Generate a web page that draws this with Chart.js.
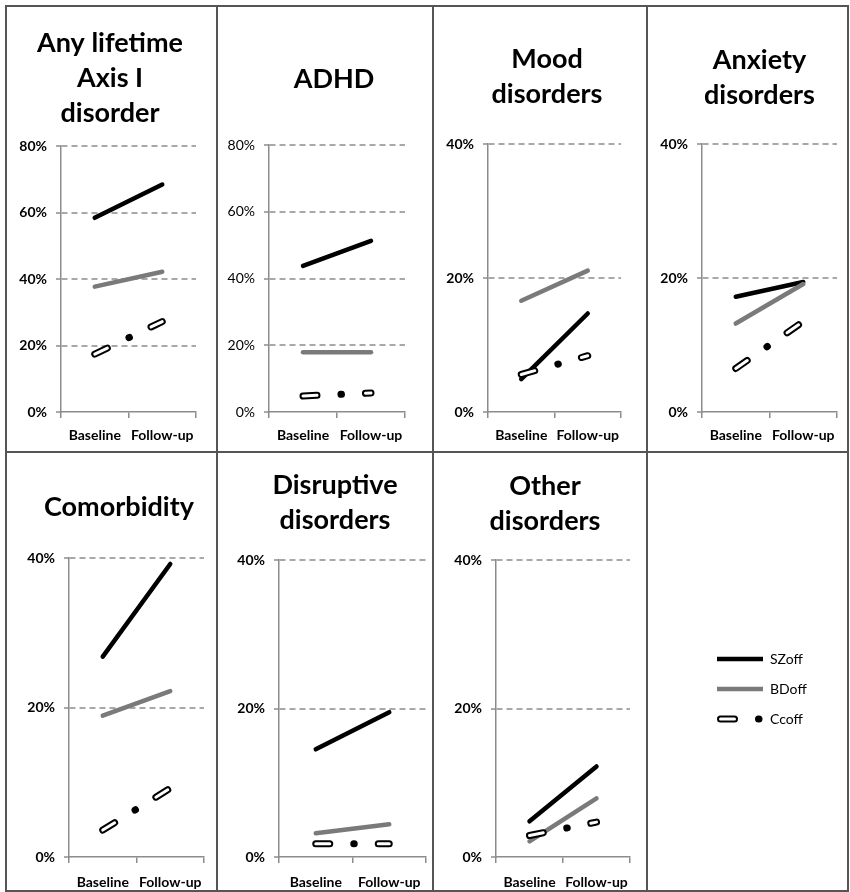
<!DOCTYPE html>
<html><head><meta charset="utf-8">
<script src="https://cdn.jsdelivr.net/npm/chart.js@4.4.1/dist/chart.umd.min.js"></script>
<style>
html,body{margin:0;padding:0;background:#fff;}
#wrap{position:relative;width:850px;height:892px;background:#fff;overflow:hidden;}
#wrap canvas{position:absolute;}
.ln{position:absolute;background:#555;z-index:5;}
</style></head><body><div id="wrap"></div>
<script>
// ---------- data ----------
const categories = ['Baseline', 'Follow-up'];
const seriesNames = ['SZoff', 'BDoff', 'Ccoff'];
const panelTitles = [
  ['Any lifetime', 'Axis I', 'disorder'],
  ['ADHD'],
  ['Mood', 'disorders'],
  ['Anxiety', 'disorders'],
  ['Comorbidity'],
  ['Disruptive', 'disorders'],
  ['Other', 'disorders']
];
const szoffValues = [[58.4, 68.4], [43.8, 51.3], [4.9, 14.7], [17.2, 19.4], [26.8, 39.2], [14.5, 19.5], [4.8, 12.2]];
const bdoffValues = [[37.7, 42.2], [17.9, 17.9], [16.6, 21.1], [13.2, 19.1], [18.9, 22.2], [3.2, 4.4], [2.1, 7.9]];
const ccoffValues = [[17.4, 27.2], [4.8, 5.7], [5.6, 8.4], [6.5, 13.5], [3.6, 9.2], [1.8, 1.8], [2.9, 4.7]];
const yAxisMax = [80, 80, 40, 40, 40, 40, 40];
const yTickStep = 20;

// ---------- layout & style ----------
const colEdges = [6, 217, 433, 647, 848];
const rowEdges = [6, 452, 891];
// cL/cW: canvas left & width (title is centred on the canvas); yW/rW: left axis / right spacer widths
const panelLayout = [
  {col:0,row:0,cL:6,  cW:208,yW:55,rW:18,tpt:19.5,tpb:15.5,xH:40,xPad:9, bold:true},
  {col:1,row:0,cL:217,cW:234,yW:52,rW:46,tpt:55.5,tpb:48.5,xH:40,xPad:9, bold:false},
  {col:2,row:0,cL:433,cW:228,yW:55,rW:40,tpt:35.5,tpb:32.5,xH:40,xPad:9, bold:true},
  {col:3,row:0,cL:647,cW:225,yW:55,rW:35,tpt:37,  tpb:31,  xH:40,xPad:9, bold:true},
  {col:0,row:1,cL:6,  cW:226,yW:63,rW:28,tpt:37.5,tpb:33.5,xH:34,xPad:11,bold:true},
  {col:1,row:1,cL:217,cW:236,yW:62,rW:27,tpt:15.5,tpb:22.5,xH:34,xPad:11,bold:true},
  {col:2,row:1,cL:433,cW:224,yW:63,rW:27,tpt:16.5,tpb:21.5,xH:34,xPad:11,bold:true}
];
const FONT = 'Lato, "Open Sans", sans-serif';
const AXIS_GRAY = '#8c8c8c';
const GRID_GRAY = '#a8a8a8';
const lineStyles = {
  SZoff: {color:'#000000', width:4.5},
  BDoff: {color:'#7a7a7a', width:4.5},
  Ccoff: {color:'#000000', width:7, dash:[14, 24, 0.5, 24], inner:'#ffffff', innerWidth:3, innerDash:[14, 48.5]}
};

const wrap = document.getElementById('wrap');

// borders of the table
colEdges.forEach(x => {
  const d = document.createElement('div'); d.className = 'ln';
  d.style.left = (x - 1) + 'px'; d.style.top = (rowEdges[0] - 1) + 'px';
  d.style.width = '2px'; d.style.height = (rowEdges[2] - rowEdges[0] + 2) + 'px';
  wrap.appendChild(d);
});
rowEdges.forEach(y => {
  const d = document.createElement('div'); d.className = 'ln';
  d.style.top = (y - 1) + 'px'; d.style.left = (colEdges[0] - 1) + 'px';
  d.style.height = '2px'; d.style.width = (colEdges[4] - colEdges[0] + 2) + 'px';
  wrap.appendChild(d);
});

function makeCanvas(left, row, width) {
  const top = rowEdges[row];
  const cv = document.createElement('canvas');
  cv.width = width;
  cv.height = rowEdges[row + 1] - top;
  cv.style.left = left + 'px'; cv.style.top = top + 'px';
  wrap.appendChild(cv);
  return cv;
}

panelLayout.forEach((L, i) => {
  const cv = makeCanvas(L.cL, L.row, L.cW);
  const cs = lineStyles.Ccoff, bs = lineStyles.BDoff, ss = lineStyles.SZoff;
  new Chart(cv, {
    type: 'line',
    data: {
      labels: categories,
      datasets: [
        {label:'Ccoff', data: ccoffValues[i], borderColor: cs.inner, borderWidth: cs.innerWidth, borderDash: cs.innerDash, borderCapStyle:'round', pointRadius:0, order:0},
        {label:'Ccoff', data: ccoffValues[i], borderColor: cs.color, borderWidth: cs.width, borderDash: cs.dash, borderCapStyle:'round', pointRadius:0, order:1},
        {label:'BDoff', data: bdoffValues[i], borderColor: bs.color, borderWidth: bs.width, borderCapStyle:'round', pointRadius:0, order:2},
        {label:'SZoff', data: szoffValues[i], borderColor: ss.color, borderWidth: ss.width, borderCapStyle:'round', pointRadius:0, order:3}
      ]
    },
    options: {
      responsive:false, animation:false, events:[],
      layout: {padding: 0},
      plugins: {
        legend: {display:false},
        tooltip: {enabled:false},
        title: {display:true, text: panelTitles[i], color:'#000',
          font: {family: FONT, size:27, weight:'bold', lineHeight:'35px'},
          padding: {top:L.tpt, bottom:L.tpb}}
      },
      scales: {
        x: {
          offset: true,
          grid: {offset:true, drawOnChartArea:false, drawTicks:true, tickLength:6, color:AXIS_GRAY, lineWidth:1.5},
          border: {display:true, color:AXIS_GRAY, width:1.5},
          ticks: {font:{family:FONT, size:14, weight:'bold'}, color:'#000', padding:L.xPad, maxRotation:0, autoSkip:false},
          afterFit: s => { s.height = L.xH; }
        },
        y: {
          position:'left',
          min:0, max: yAxisMax[i],
          ticks: {stepSize: yTickStep, callback: v => v + '%', font:{family:FONT, size:14, weight: L.bold ? 'bold' : 'normal'}, color:'#000', padding:9},
          grid: {color: c => (c.tick && c.tick.value === 0) ? 'rgba(0,0,0,0)' : GRID_GRAY, lineWidth:2, tickLength:5, tickColor:AXIS_GRAY, tickWidth:1.5},
          border: {display:true, color:AXIS_GRAY, width:1.5, dash:[6, 4]},
          afterFit: s => { s.width = L.yW; }
        },
        spacer: {
          type:'linear', axis:'y', position:'right', display:true, min:0, max:1,
          ticks:{display:false}, grid:{display:false, drawTicks:false}, border:{display:false},
          afterFit: s => { s.width = L.rW; }
        }
      }
    }
  });
});

// ---------- legend panel ----------
function glyph(name) {
  const st = lineStyles[name];
  const c = document.createElement('canvas');
  c.width = 46; c.height = 10;
  const g = c.getContext('2d');
  const strokeIt = (color, width, dash, x0, x1, cap) => {
    g.save(); g.strokeStyle = color; g.lineWidth = width; g.lineCap = cap;
    g.setLineDash(dash || []); g.beginPath(); g.moveTo(x0, 5); g.lineTo(x1, 5); g.stroke(); g.restore();
  };
  if (st.inner) {
    strokeIt(st.color, st.width, st.dash, 3.5, 44, 'round');
    strokeIt(st.inner, st.innerWidth, st.innerDash, 3.5, 44, 'round');
  } else {
    strokeIt(st.color, st.width, null, 0, 46, 'butt');
  }
  return c;
}
const glyphs = seriesNames.map(glyph);
const legendCanvas = makeCanvas(colEdges[3], 1, 420);
new Chart(legendCanvas, {
  type: 'line',
  data: {labels: categories, datasets: seriesNames.map(n => ({label:n, data:[]}))},
  options: {
    responsive:false, animation:false, events:[],
    layout: {padding: {left:54, top:184}},
    scales: {x:{display:false}, y:{display:false}},
    plugins: {
      tooltip: {enabled:false},
      legend: {
        position:'left', align:'start',
        labels: {
          usePointStyle:true, pointStyleWidth:46, padding:16, textAlign:'left',
          font:{family:FONT, size:14}, color:'#000',
          generateLabels: chart => chart.data.datasets.map((ds, k) => ({
            text: ds.label, pointStyle: glyphs[k], datasetIndex:k, hidden:false,
            lineWidth:0, fillStyle:'#000', strokeStyle:'#000', fontColor:'#000'
          }))
        }
      }
    }
  }
});
</script></body></html>
